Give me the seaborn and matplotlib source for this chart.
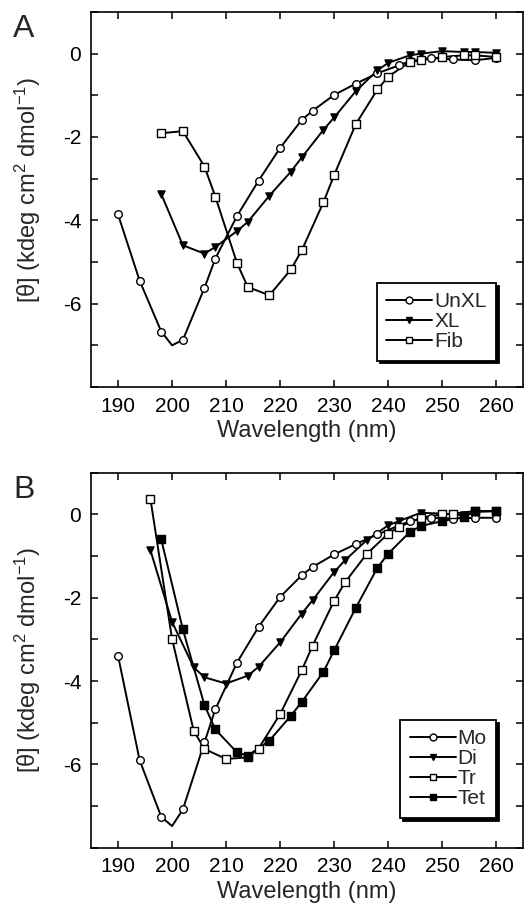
import numpy as np
import pandas as pd
import matplotlib
matplotlib.use("Agg")
import matplotlib.pyplot as plt
from matplotlib.lines import Line2D
import seaborn as sns

# =========================================
# Data
# =========================================
# Panel A
wl_unxl = [190, 194, 198, 202, 206, 208, 212, 216, 220, 224, 226, 230, 234, 238, 242, 244, 248, 252, 256, 260]
unxl = [-3.86, -5.45, -6.67, -6.87, -5.62, -4.92, -3.90, -3.05, -2.26, -1.59, -1.37, -0.99, -0.72, -0.47, -0.28, -0.18, -0.10, -0.14, -0.16, -0.10]
unxl_dip = (200, -7.0)   # curve minimum, no marker

wl_xl = [198, 202, 206, 208, 212, 214, 218, 222, 224, 228, 230, 234, 238, 240, 244, 246, 250, 254, 256, 260]
xl = [-3.37, -4.60, -4.80, -4.64, -4.26, -4.04, -3.41, -2.83, -2.49, -1.83, -1.53, -0.90, -0.40, -0.22, -0.04, 0.00, 0.06, 0.04, 0.04, 0.02]

wl_fib = [198, 202, 206, 208, 212, 214, 218, 222, 224, 228, 230, 234, 238, 240, 244, 246, 250, 254, 256, 260]
fib = [-1.91, -1.86, -2.71, -3.43, -5.02, -5.60, -5.80, -5.18, -4.72, -3.57, -2.91, -1.69, -0.86, -0.55, -0.20, -0.16, -0.08, -0.04, -0.04, -0.08]

# Panel B
wl_mo = [190, 194, 198, 202, 206, 208, 212, 216, 220, 224, 226, 230, 234, 238, 244, 248, 252, 256, 260]
mo = [-3.39, -5.90, -7.26, -7.08, -5.47, -4.68, -3.56, -2.70, -1.98, -1.46, -1.26, -0.96, -0.71, -0.48, -0.16, -0.08, -0.10, -0.08, -0.08]
mo_dip = (200, -7.48)

wl_di = [196, 200, 204, 206, 210, 214, 216, 220, 224, 226, 230, 232, 236, 240, 242, 246, 250, 254, 256, 260]
di = [-0.86, -2.58, -3.67, -3.91, -4.06, -3.87, -3.66, -3.07, -2.38, -2.06, -1.38, -1.10, -0.62, -0.26, -0.16, 0.04, 0.02, -0.02, 0.06, 0.08]

wl_tr = [196, 200, 204, 206, 210, 214, 216, 220, 224, 226, 230, 232, 236, 240, 242, 246, 250, 252, 256, 260]
tr = [0.37, -2.99, -5.19, -5.63, -5.87, -5.83, -5.62, -4.79, -3.74, -3.15, -2.07, -1.63, -0.95, -0.46, -0.30, -0.08, 0.00, 0.02, 0.08, 0.08]

wl_tet = [198, 202, 206, 208, 212, 214, 218, 222, 224, 228, 230, 234, 238, 240, 244, 246, 250, 254, 256, 260]
tet = [-0.60, -2.76, -4.58, -5.16, -5.71, -5.79, -5.43, -4.83, -4.50, -3.78, -3.26, -2.24, -1.28, -0.94, -0.42, -0.28, -0.16, -0.06, 0.08, 0.08]

# =========================================
# Style
# =========================================
sns.set_style("ticks")
plt.rcParams["font.family"] = ["Liberation Sans", "DejaVu Sans"]
plt.rcParams["mathtext.fontset"] = "custom"
plt.rcParams["mathtext.rm"] = "Liberation Sans"
plt.rcParams["mathtext.it"] = "Liberation Sans:italic"
plt.rcParams["axes.unicode_minus"] = False

fig = plt.figure(figsize=(5.26, 9.09), dpi=100)
axA = fig.add_axes([0.173, 0.5743, 0.822, 0.4125])
axB = fig.add_axes([0.173, 0.0674, 0.822, 0.4125])


def add_series(ax, x, y, marker, filled, dip=None):
    # line through the points (plus the unmarked minimum, if any)
    lx, ly = list(x), list(y)
    if dip is not None:
        i = int(np.searchsorted(lx, dip[0]))
        lx.insert(i, dip[0])
        ly.insert(i, dip[1])
    sns.lineplot(x=lx, y=ly, ax=ax, color="black", lw=1.4, sort=False, zorder=2)
    sns.scatterplot(x=x, y=y, ax=ax, marker=marker, s=30 if marker == "o" else 26,
                    facecolor="black" if filled else "white", edgecolor="black",
                    linewidth=1.0, zorder=3)


def style_axes(ax, handles, labels, tag, leg_anchor, ylab_y):
    ax.set_xlim(185, 265)
    ax.set_ylim(-8, 1)
    ax.set_xticks(range(190, 261, 10))
    yt = list(range(-8, 2))
    ax.set_yticks(yt)
    ax.set_yticklabels([str(v) if v % 2 == 0 and v > -8 else "" for v in yt])
    ax.tick_params(direction="in", top=True, right=True, length=5, width=1.1,
                   labelsize=15, pad=7, colors="black")
    for sp in ax.spines.values():
        sp.set_linewidth(1.2)
        sp.set_color("black")
    ax.set_xlabel("Wavelength (nm)", fontsize=17, labelpad=3)
    ax.set_ylabel(r"[θ] (kdeg cm$^2$ dmol$^{-1}$)", fontsize=17)
    ax.yaxis.set_label_coords(-0.112, ylab_y)
    leg = ax.legend(handles, labels, loc="lower right", bbox_to_anchor=leg_anchor,
                    fontsize=15, frameon=True, fancybox=False,
                    shadow={"color": "black", "alpha": 1.0},
                    labelspacing=0.05, borderpad=0.45, handlelength=2.2,
                    handletextpad=0.1, borderaxespad=0.0)
    leg.get_frame().set_edgecolor("black")
    leg.get_frame().set_linewidth(1.3)
    ax.text(-0.18, 0.995, tag, transform=ax.transAxes, fontsize=23,
            va="top", ha="left")


def handle(marker, filled):
    return Line2D([], [], color="black", lw=1.4, marker=marker, ms=5,
                  mfc="black" if filled else "white", mec="black", mew=1.0)


# =========================================
# Panel A
# =========================================
add_series(axA, wl_unxl, unxl, "o", False, dip=unxl_dip)
add_series(axA, wl_xl, xl, "v", True)
add_series(axA, wl_fib, fib, "s", False)
style_axes(axA, [handle("o", False), handle("v", True), handle("s", False)],
           ["UnXL", "XL", "Fib"], "A", (0.937, 0.07), 0.525)

# =========================================
# Panel B
# =========================================
add_series(axB, wl_mo, mo, "o", False, dip=mo_dip)
add_series(axB, wl_di, di, "v", True)
add_series(axB, wl_tr, tr, "s", False)
add_series(axB, wl_tet, tet, "s", True)
style_axes(axB, [handle("o", False), handle("v", True), handle("s", False), handle("s", True)],
           ["Mo", "Di", "Tr", "Tet"], "B", (0.937, 0.08), 0.5)

fig.savefig("out.png", dpi=100)
